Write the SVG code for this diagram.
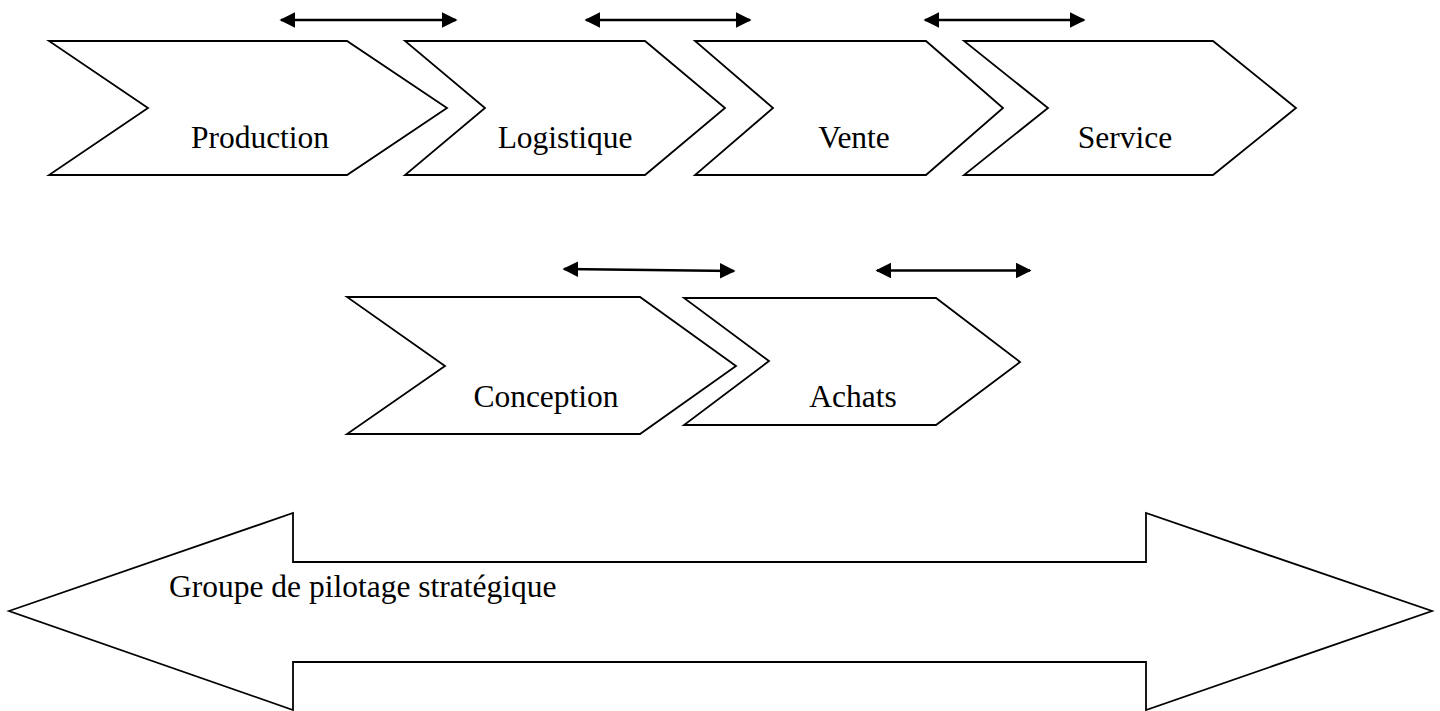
<svg xmlns="http://www.w3.org/2000/svg" width="1440" height="711" viewBox="0 0 1440 711">
  <style>
    .shape { fill: #ffffff; stroke: #000000; stroke-width: 1.8; stroke-linejoin: miter; }
    .label { font-family: "Liberation Serif", "Times New Roman", serif; font-size: 31.5px; fill: #000000; }
    .link { stroke: #000000; stroke-width: 2.6; fill: none; marker-start: url(#head); marker-end: url(#head); }
  </style>
  <defs>
    <marker id="head" viewBox="0 0 10 10" refX="9" refY="5" markerWidth="6" markerHeight="6" markerUnits="strokeWidth" orient="auto-start-reverse">
      <path d="M0,0 L10,5 L0,10 Z" fill="#000000"/>
    </marker>
  </defs>
  <rect width="1440" height="711" fill="#ffffff"/>

  <!-- upper value chain -->
  <g id="production">
    <polygon class="shape" points="49,41 347,41 447,108 347,175 49,175 148,108"/>
    <text class="label" x="260" y="148" text-anchor="middle">Production</text>
  </g>
  <g id="logistique">
    <polygon class="shape" points="405,41 645,41 725,108 645,175 405,175 485,108"/>
    <text class="label" x="565" y="148" text-anchor="middle">Logistique</text>
  </g>
  <g id="vente">
    <polygon class="shape" points="695,41 926,41 1003,108 926,175 695,175 773,108"/>
    <text class="label" x="854" y="148" text-anchor="middle">Vente</text>
  </g>
  <g id="service">
    <polygon class="shape" points="964,41 1213,41 1296,108 1213,175 964,175 1048,108"/>
    <text class="label" x="1125" y="148" text-anchor="middle">Service</text>
  </g>

  <!-- support activities -->
  <g id="conception">
    <polygon class="shape" points="347,297 640,297 736,366 640,434 347,434 445,366"/>
    <text class="label" x="546" y="407" text-anchor="middle">Conception</text>
  </g>
  <g id="achats">
    <polygon class="shape" points="684,298 936,298 1020,362 936,425 684,425 769,361"/>
    <text class="label" x="853" y="407" text-anchor="middle">Achats</text>
  </g>

  <!-- steering group band -->
  <g id="pilotage">
    <polygon class="shape" points="9,611 293,513 293,562 1146,562 1146,513 1432,611 1146,710 1146,662 293,662 293,710"/>
    <text class="label" x="169" y="597">Groupe de pilotage stratégique</text>
  </g>

  <!-- two-way links between activities -->
  <g id="connectors">
    <line class="link" x1="281" y1="20" x2="456" y2="20"/>
    <line class="link" x1="586" y1="20" x2="750" y2="20"/>
    <line class="link" x1="925" y1="20" x2="1084" y2="20"/>
    <line class="link" x1="564" y1="269" x2="734" y2="271"/>
    <line class="link" x1="877" y1="270.5" x2="1030" y2="270.5"/>
  </g>
</svg>
